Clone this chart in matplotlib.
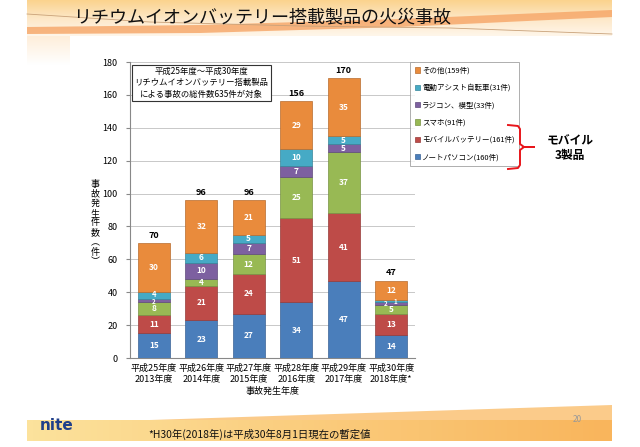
import numpy as np
import matplotlib
matplotlib.use('Agg')
import matplotlib.pyplot as plt
from matplotlib.patches import Polygon
from matplotlib.lines import Line2D

plt.rcParams['font.family'] = ['Noto Sans CJK JP', 'DejaVu Sans']

# data
years = ['平成25年度\n2013年度', '平成26年度\n2014年度', '平成27年度\n2015年度',
         '平成28年度\n2016年度', '平成29年度\n2017年度', '平成30年度\n2018年度*']
notebook = [15, 23, 27, 34, 47, 14]
mobile_battery = [11, 21, 24, 51, 41, 13]
smartphone = [8, 4, 12, 25, 37, 5]
radicon = [2, 10, 7, 7, 5, 2]
ebike = [4, 6, 5, 10, 5, 1]
other = [30, 32, 21, 29, 35, 12]

series = [
    ('ノートパソコン(160件)', notebook, '#4A7EBB', '#3A6396'),
    ('モバイルバッテリー(161件)', mobile_battery, '#BE4B48', '#953A38'),
    ('スマホ(91件)', smartphone, '#98B954', '#779243'),
    ('ラジコン、模型(33件)', radicon, '#7D60A0', '#5F4A7B'),
    ('電動アシスト自転車(31件)', ebike, '#46AAC5', '#36859A'),
    ('その他(159件)', other, '#E98B3C', '#B86C2E'),
]

W, H = 640, 447
fig = plt.figure(figsize=(W / 100, H / 100), dpi=100)

# slide decorations in pixel coordinates
bg = fig.add_axes([0, 0, 1, 1])
bg.set_xlim(0, W)
bg.set_ylim(H, 0)
bg.axis('off')

cmap = matplotlib.colors.LinearSegmentedColormap.from_list
grad = np.linspace(0, 1, 50).reshape(-1, 1)
bg.imshow(grad, extent=(27, 612, 36, 0), aspect='auto',
          cmap=cmap('h', ['#FBD38E', '#FDE7C6', '#FFF6EA']), zorder=0)
bg.add_patch(Polygon([(27, 27), (200, 25), (400, 19), (612, 10), (612, 17), (400, 27), (200, 33), (27, 34)],
                     closed=True, color='#F6A566', alpha=0.8, lw=0, zorder=1))
bg.add_line(Line2D([27, 150, 300, 450, 612], [14, 22, 26, 28, 34], color='#C9A27A', lw=0.6, zorder=1))
bg.imshow(grad, extent=(27, 70, 65, 36), aspect='auto',
          cmap=cmap('v', ['#FEEEDA', '#FFFFFF']), zorder=0)

hgrad = np.linspace(0, 1, 100).reshape(1, -1)
bg.imshow(hgrad, extent=(27, 612, 441, 420), aspect='auto',
          cmap=cmap('f', ['#FCE29C', '#F9B55C']), zorder=0)
bg.add_patch(Polygon([(150, 420), (612, 405), (612, 420)], closed=True, color='#FBCB8A', lw=0, zorder=0))

bg.text(262, 17, 'リチウムイオンバッテリー搭載製品の火災事故', fontsize=13, ha='center', va='center', color='#111111')
bg.text(40, 425, 'nite', fontsize=11, fontweight='bold', color='#1F3F8A', ha='left', va='center',
        family=['DejaVu Sans'])
bg.text(260, 434, '*H30年(2018年)は平成30年8月1日現在の暫定値', fontsize=7.5, ha='center', va='center',
        color='#111111')
bg.text(577, 420, '20', fontsize=6, color='#999999', ha='center', va='center')

# chart
ax = fig.add_axes([130 / W, 1 - 358 / H, 285 / W, 296 / H])
x = np.arange(len(years))
bottom = np.zeros(len(years))
for si, (name, vals, col, edge) in enumerate(series):
    vals = np.array(vals)
    ax.bar(x, vals, 0.67, bottom=bottom, color=col, edgecolor=edge, linewidth=0.5, label=name, zorder=3)
    for xi, b, v in zip(x, bottom, vals):
        fs = 6 if v > 3 else 4.5
        dx, dy = 0, 0
        # squeeze the tiny segments a bit so their labels don't collide
        if xi == 0 and si == 3:
            dy = -0.8
        if xi == 0 and si == 4:
            dy = 0.6
            fs = 5.5
        if xi == 5 and si == 3:
            dx = -0.12
        if xi == 5 and si == 4:
            dx = 0.08
        ax.text(xi + dx, b + v / 2 + dy, str(v), ha='center', va='center', color='white',
                fontsize=fs, fontweight='bold', zorder=4)
    bottom += vals

for xi, t in zip(x, bottom):
    ax.text(xi, t + 2, str(int(t)), ha='center', va='bottom', fontsize=6.5, fontweight='bold', zorder=4)

ax.set_xlim(-0.5, 5.5)
ax.set_ylim(0, 180)
ax.set_yticks(np.arange(0, 181, 20))
ax.set_xticks(x)
ax.set_xticklabels(years, fontsize=6.5, linespacing=1.4)
ax.tick_params(axis='y', labelsize=6.5, length=3, color='#888888', pad=6)
ax.tick_params(axis='x', length=0, pad=4)
ax.yaxis.grid(True, color='#C8C8C8', lw=0.7, zorder=0)
for s in ['top', 'right']:
    ax.spines[s].set_visible(False)
ax.spines['left'].set_color('#888888')
ax.spines['bottom'].set_color('#888888')
ax.set_xlabel('事故発生年度', fontsize=6.5, labelpad=2)

fig.text(95 / W, 1 - 223 / H, '事\n故\n発\n生\n件\n数\n︵\n件\n︶', fontsize=6.5, ha='center', va='center',
         linespacing=1.1)

ax.text(0.25, 0.983, '平成25年度～平成30年度\nリチウムイオンバッテリー搭載製品\nによる事故の総件数635件が対象',
        transform=ax.transAxes, ha='center', va='top', multialignment='center', fontsize=6,
        linespacing=1.35, zorder=5,
        bbox=dict(boxstyle='square,pad=0.3', fc='white', ec='#333333', lw=0.8))

handles, labels = ax.get_legend_handles_labels()
leg = fig.legend(handles[::-1], labels[::-1], loc='upper left', bbox_to_anchor=(410 / W, 1 - 62 / H),
                 fontsize=5.4, frameon=True, fancybox=False, edgecolor='#999999', handlelength=0.7,
                 handleheight=0.7, labelspacing=1.25, borderpad=0.6, handletextpad=0.3,
                 borderaxespad=0)
leg.get_frame().set_linewidth(0.7)

# overlay for the red bracket and its label
top = fig.add_axes([0, 0, 1, 1], zorder=10)
top.set_xlim(0, W)
top.set_ylim(H, 0)
top.axis('off')
bx = [508, 518, 520, 520, 524, 534, 524, 520, 520, 518, 508]
by = [125, 126, 129, 144, 147, 147, 147, 150, 165, 168, 169]
top.add_line(Line2D(bx, by, color='#E8161B', lw=1.4))
top.text(570, 148, 'モバイル\n3製品', fontsize=8.5, fontweight='bold', ha='center', va='center', linespacing=1.2)

fig.savefig('out.png', dpi=100)
